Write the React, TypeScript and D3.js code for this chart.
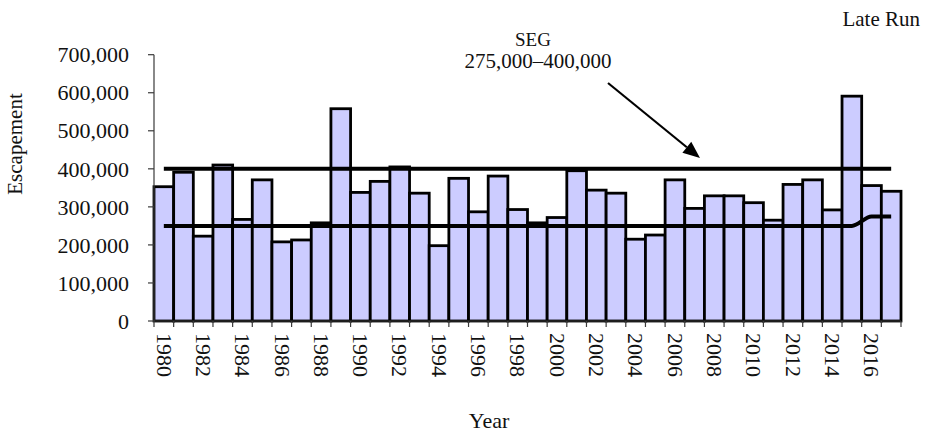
import React from "react";
import * as d3 from "d3";

const years = d3.range(1980, 2018);
const escapement = [
  353000, 391000, 223000, 410000, 267000, 371000, 208000, 213000, 258000, 558000,
  338000, 367000, 405000, 336000, 198000, 375000, 287000, 381000, 293000, 258000,
  272000, 395000, 344000, 336000, 215000, 226000, 371000, 296000, 329000, 329000,
  311000, 265000, 359000, 371000, 292000, 591000, 356000, 341000,
];
const segUpper = years.map(() => 400000);
const segLower = years.map((y) => (y >= 2016 ? 275000 : 250000));
const yTicks = [0, 100000, 200000, 300000, 400000, 500000, 600000, 700000];
const yearLabels = years.filter((y) => y % 2 === 0);

const W = 925;
const H = 436;
const left = 154;
const right = 901;
const top = 54.7;
const bottom = 321;
const font = "'Liberation Serif', 'Times New Roman', serif";

export default function App() {
  const x = d3.scaleBand<number>().domain(years).range([left, right]).padding(0);
  const y = d3.scaleLinear().domain([0, 700000]).range([bottom, top]);
  const cx = (yr: number) => (x(yr) as number) + x.bandwidth() / 2;
  const fmt = d3.format(",");

  const upperLine = d3
    .line<number>()
    .x((_, i) => cx(years[i]))
    .y((d) => y(d));
  const lowerLine = d3
    .line<number>()
    .x((_, i) => cx(years[i]))
    .y((d) => y(d))
    .curve(d3.curveMonotoneX);

  const boundaries = years.map((yr) => x(yr) as number).concat([right]);

  // arrow pointing at the SEG band
  const a0 = [608, 83];
  const a1 = [700, 158];
  const ang = Math.atan2(a1[1] - a0[1], a1[0] - a0[0]);
  const hl = 17;
  const hw = 7;
  const bx = a1[0] - hl * Math.cos(ang);
  const by = a1[1] - hl * Math.sin(ang);
  const head = [
    [a1[0], a1[1]],
    [bx + hw * Math.sin(ang), by - hw * Math.cos(ang)],
    [bx - hw * Math.sin(ang), by + hw * Math.cos(ang)],
  ];

  return (
    <svg
      width={W}
      height={H}
      style={{ position: "absolute", left: 0, top: 0, background: "#fff" }}
      fontFamily={font}
    >
      {/* bars */}
      {years.map((yr, i) => (
        <rect
          key={yr}
          x={x(yr)}
          y={y(escapement[i])}
          width={x.bandwidth()}
          height={bottom - y(escapement[i])}
          fill="#ccccff"
          stroke="#000"
          strokeWidth={2.8}
        />
      ))}

      {/* SEG lines */}
      <path d={upperLine(segUpper) || ""} fill="none" stroke="#000" strokeWidth={4} />
      <path d={lowerLine(segLower) || ""} fill="none" stroke="#000" strokeWidth={4} />

      {/* y axis */}
      <line x1={left} x2={left} y1={top} y2={bottom} stroke="#3a3a3a" strokeWidth={1.2} />
      {yTicks.map((t) => (
        <g key={t}>
          <line x1={left - 6} x2={left} y1={y(t)} y2={y(t)} stroke="#3a3a3a" strokeWidth={1.2} />
          <text x={129} y={y(t)} dy="0.35em" textAnchor="end" fontSize={22} fill="#111">
            {fmt(t)}
          </text>
        </g>
      ))}

      {/* x axis */}
      <line x1={left} x2={right} y1={bottom} y2={bottom} stroke="#3a3a3a" strokeWidth={1.2} />
      {boundaries.map((bx0, i) => (
        <line key={i} x1={bx0} x2={bx0} y1={bottom} y2={bottom + 6} stroke="#3a3a3a" strokeWidth={1.2} />
      ))}
      {yearLabels.map((yr) => (
        <text
          key={yr}
          transform={`translate(${cx(yr)},${333}) rotate(90)`}
          dy="0.33em"
          textAnchor="start"
          fontSize={22}
          fill="#111"
        >
          {yr}
        </text>
      ))}

      {/* axis titles */}
      <text x={489} y={428} textAnchor="middle" fontSize={22} fill="#111">
        Year
      </text>
      <text
        transform={`translate(22,144) rotate(-90)`}
        textAnchor="middle"
        fontSize={21}
        fill="#111"
      >
        Escapement
      </text>
      <text x={920} y={26} textAnchor="end" fontSize={21} fill="#111">
        Late Run
      </text>

      {/* SEG annotation */}
      <text x={533} y={46} textAnchor="middle" fontSize={19} fill="#111">
        SEG
      </text>
      <text x={538} y={68} textAnchor="middle" fontSize={21} fill="#111">
        275,000–400,000
      </text>
      <line x1={a0[0]} y1={a0[1]} x2={bx} y2={by} stroke="#000" strokeWidth={2.2} />
      <polygon points={head.map((p) => p.join(",")).join(" ")} fill="#000" />
    </svg>
  );
}
